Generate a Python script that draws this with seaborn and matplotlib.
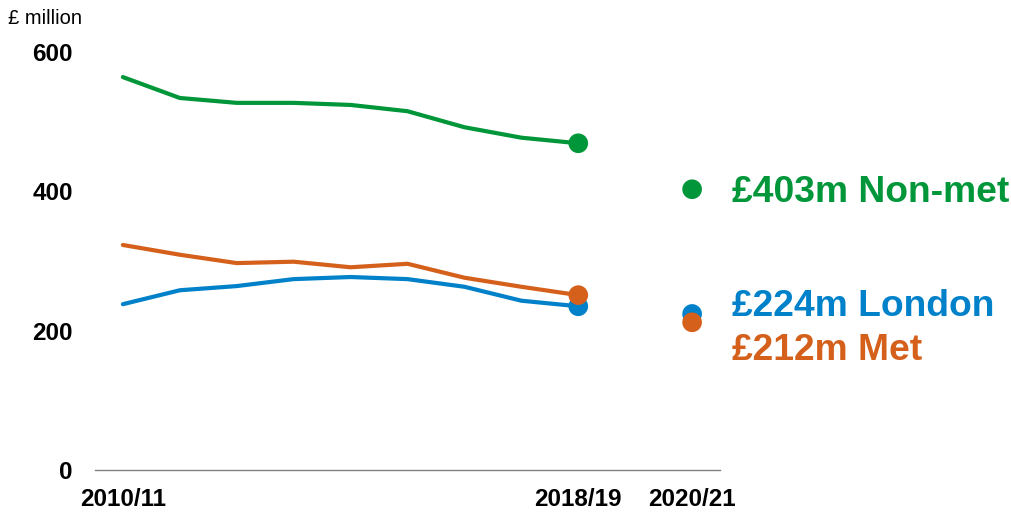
import matplotlib
matplotlib.use("Agg")
import matplotlib.pyplot as plt
import seaborn as sns
import pandas as pd

years = ["2010/11", "2011/12", "2012/13", "2013/14", "2014/15", "2015/16",
         "2016/17", "2017/18", "2018/19", "2019/20", "2020/21"]
non_met = [564, 534, 527, 527, 524, 515, 492, 477, 469]
london = [238, 258, 264, 274, 277, 274, 263, 243, 235]
met = [323, 309, 297, 299, 291, 296, 276, 263, 251]
series = ["Non-met", "London", "Met"]
values_2021 = [403, 224, 212]
labels_2021 = ["£403m Non-met", "£224m London", "£212m Met"]
colors = ["#009639", "#0081C9", "#D5601B"]
tick_years = ["2010/11", "2018/19", "2020/21"]

sns.set_style("white")
plt.rcParams["font.family"] = ["Liberation Sans", "DejaVu Sans"]
plt.rcParams["text.color"] = "black"
plt.rcParams["xtick.color"] = "black"
plt.rcParams["ytick.color"] = "black"

rows = []
for name, vals in zip(series, [non_met, london, met]):
    for i, v in enumerate(vals):
        rows.append({"x": i, "value": v, "series": name})
lines = pd.DataFrame(rows)

pts = []
for name, vals, v21 in zip(series, [non_met, london, met], values_2021):
    pts.append({"x": len(vals) - 1, "value": vals[-1], "series": name})
    pts.append({"x": years.index("2020/21"), "value": v21, "series": name})
dots = pd.DataFrame(pts)
palette = dict(zip(series, colors))

fig = plt.figure(figsize=(10.11, 5.15), dpi=100)
ax = fig.add_axes([95 / 1011, 45 / 515, 625 / 1011, 418 / 515])

sns.lineplot(data=lines, x="x", y="value", hue="series", hue_order=series,
             palette=palette, linewidth=3, legend=False, ax=ax)
sns.scatterplot(data=dots, x="x", y="value", hue="series", hue_order=series,
                palette=palette, s=200, linewidth=0, legend=False, ax=ax,
                zorder=5)

offsets = [(40, -3), (40, 7), (40, -28)]
for lab, v, c, off in zip(labels_2021, values_2021, colors, offsets):
    ax.annotate(lab, xy=(years.index("2020/21"), v), xytext=off,
                textcoords="offset pixels", color=c, fontsize=26.8,
                fontweight="bold", va="center", ha="left",
                annotation_clip=False)

ax.set_xlim(-0.49, 10.49)
ax.set_ylim(0, 600)
ax.set_yticks([0, 200, 400, 600])
ax.set_xticks([years.index(t) for t in tick_years])
ax.set_xticklabels(tick_years)
ax.tick_params(axis="both", length=0, labelsize=17.5, labelcolor="black")
ax.tick_params(axis="y", pad=16)
ax.tick_params(axis="x", pad=13)
for lab in ax.get_xticklabels() + ax.get_yticklabels():
    lab.set_fontweight("bold")
ax.set_xlabel("")
ax.set_ylabel("")
for s in ["top", "right", "left"]:
    ax.spines[s].set_visible(False)
ax.spines["bottom"].set_color("#808080")
ax.spines["bottom"].set_linewidth(1)
ax.grid(False)

fig.text(8 / 1011, 1 - 18 / 515, "£ million", fontsize=14.5, va="center",
         ha="left", color="black")

fig.savefig("out.png", dpi=100)
